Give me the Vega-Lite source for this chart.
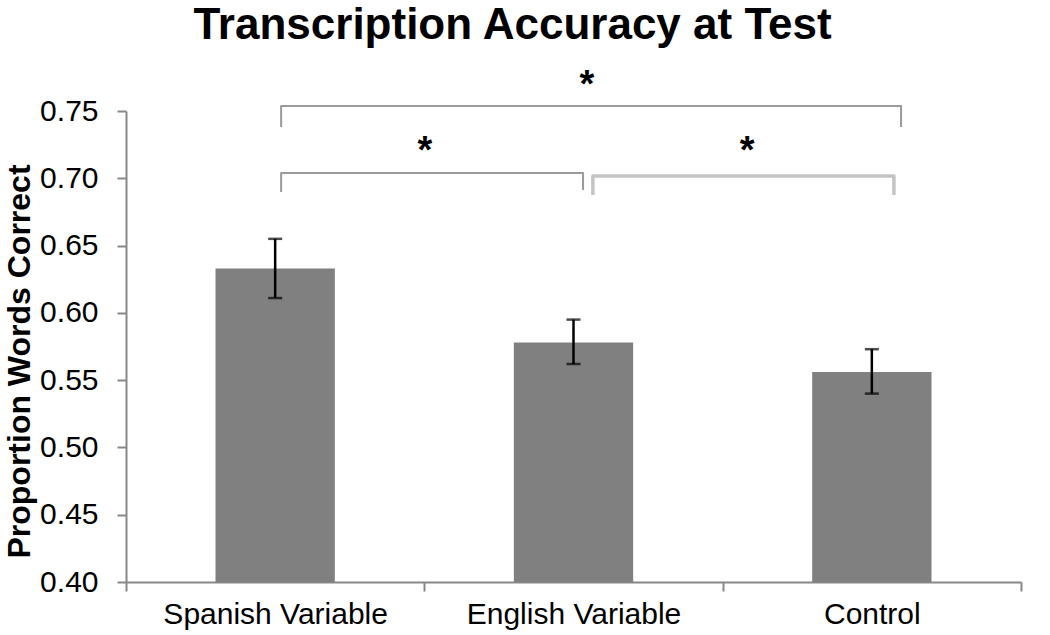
{
  "$schema": "https://vega.github.io/schema/vega-lite/v6.json",
  "autosize": {"type": "none"},
  "width": 895,
  "height": 471,
  "padding": {"left": 126, "top": 111, "right": 29, "bottom": 53},
  "background": "white",
  "config": {
    "view": {"stroke": null},
    "font": "Liberation Sans",
    "axis": {"grid": false}
  },
  "title": {
    "text": "Transcription Accuracy at Test",
    "fontSize": 44,
    "fontWeight": "bold",
    "font": "Liberation Sans",
    "color": "black",
    "anchor": "middle",
    "dx": -61,
    "offset": 19
  },
  "datasets": {
    "bars": [
      {"condition": "Spanish Variable", "mean": 0.633, "lo": 0.611, "hi": 0.655},
      {"condition": "English Variable", "mean": 0.578, "lo": 0.562, "hi": 0.595},
      {"condition": "Control", "mean": 0.556, "lo": 0.540, "hi": 0.573}
    ],
    "brackets": [
      {"bracket": "all", "step": 1, "pos": 0.520, "level": 0.7381},
      {"bracket": "all", "step": 2, "pos": 0.520, "level": 0.7537},
      {"bracket": "all", "step": 3, "pos": 2.598, "level": 0.7537},
      {"bracket": "all", "step": 4, "pos": 2.598, "level": 0.7381},
      {"bracket": "se", "step": 1, "pos": 0.520, "level": 0.6898},
      {"bracket": "se", "step": 2, "pos": 0.520, "level": 0.7039},
      {"bracket": "se", "step": 3, "pos": 1.532, "level": 0.7039},
      {"bracket": "se", "step": 4, "pos": 1.532, "level": 0.6913}
    ],
    "bracket2": [
      {"bracket": "ec", "step": 1, "pos": 1.565, "level": 0.6876},
      {"bracket": "ec", "step": 2, "pos": 1.565, "level": 0.7017},
      {"bracket": "ec", "step": 3, "pos": 2.574, "level": 0.7017},
      {"bracket": "ec", "step": 4, "pos": 2.574, "level": 0.6876}
    ],
    "stars": [
      {"label": "*", "pos": 1.545, "level": 0.7745},
      {"label": "*", "pos": 1.002, "level": 0.7255},
      {"label": "*", "pos": 2.082, "level": 0.7255}
    ]
  },
  "layer": [
    {
      "data": {"name": "bars"},
      "layer": [
        {
          "mark": {"type": "bar", "color": "#808080", "width": {"band": 0.4}},
          "encoding": {
            "y2": {"datum": 0.4}
          }
        },
        {
          "mark": {"type": "rule", "color": "black", "strokeWidth": 2.5},
          "encoding": {
            "y": {"field": "lo", "type": "quantitative"},
            "y2": {"field": "hi"}
          }
        },
        {
          "mark": {"type": "tick", "color": "black", "size": 14, "thickness": 2.5},
          "encoding": {
            "y": {"field": "lo", "type": "quantitative"}
          }
        },
        {
          "mark": {"type": "tick", "color": "black", "size": 14, "thickness": 2.5},
          "encoding": {
            "y": {"field": "hi", "type": "quantitative"}
          }
        }
      ],
      "encoding": {
        "x": {
          "field": "condition",
          "type": "nominal",
          "sort": null,
          "scale": {"paddingInner": 0, "paddingOuter": 0},
          "axis": {
            "title": null,
            "labelAngle": 0,
            "labelFontSize": 30,
            "labelColor": "black",
            "labelPadding": 8,
            "labelLimit": 0,
            "domainColor": "#888888",
            "domainWidth": 2,
            "tickColor": "#888888",
            "tickWidth": 2,
            "tickSize": 9,
            "tickBand": "extent"
          }
        },
        "y": {
          "field": "mean",
          "type": "quantitative",
          "scale": {"domain": [0.4, 0.75], "nice": false, "zero": false},
          "axis": {
            "title": "Proportion Words Correct",
            "titleFontSize": 32,
            "titleFontWeight": "bold",
            "titleColor": "black",
            "titleX": -90,
            "titleY": 250,
            "values": [0.4, 0.45, 0.5, 0.55, 0.6, 0.65, 0.7, 0.75],
            "format": ".2f",
            "labelFontSize": 30,
            "labelColor": "black",
            "labelPadding": 19,
            "domainColor": "#888888",
            "domainWidth": 2,
            "tickColor": "#888888",
            "tickWidth": 2,
            "tickSize": 9
          }
        }
      }
    },
    {
      "layer": [
        {
          "data": {"name": "brackets"},
          "mark": {"type": "line", "color": "#9a9a9a", "strokeWidth": 2, "strokeJoin": "round"},
          "encoding": {
            "x": {"field": "pos", "type": "quantitative", "scale": {"domain": [0, 3], "nice": false, "zero": false}, "axis": null},
            "y": {"field": "level", "type": "quantitative"},
            "detail": {"field": "bracket"},
            "order": {"field": "step"}
          }
        },
        {
          "data": {"name": "bracket2"},
          "mark": {"type": "line", "color": "#c4c4c4", "strokeWidth": 3.5, "strokeJoin": "round"},
          "encoding": {
            "x": {"field": "pos", "type": "quantitative", "scale": {"domain": [0, 3], "nice": false, "zero": false}, "axis": null},
            "y": {"field": "level", "type": "quantitative"},
            "detail": {"field": "bracket"},
            "order": {"field": "step"}
          }
        },
        {
          "data": {"name": "stars"},
          "mark": {"type": "text", "fontSize": 38, "fontWeight": "bold", "color": "black", "baseline": "middle", "align": "center", "dy": 8},
          "encoding": {
            "x": {"field": "pos", "type": "quantitative", "scale": {"domain": [0, 3], "nice": false, "zero": false}, "axis": null},
            "y": {"field": "level", "type": "quantitative"},
            "text": {"field": "label"}
          }
        }
      ]
    }
  ],
  "resolve": {"scale": {"x": "independent"}}
}
